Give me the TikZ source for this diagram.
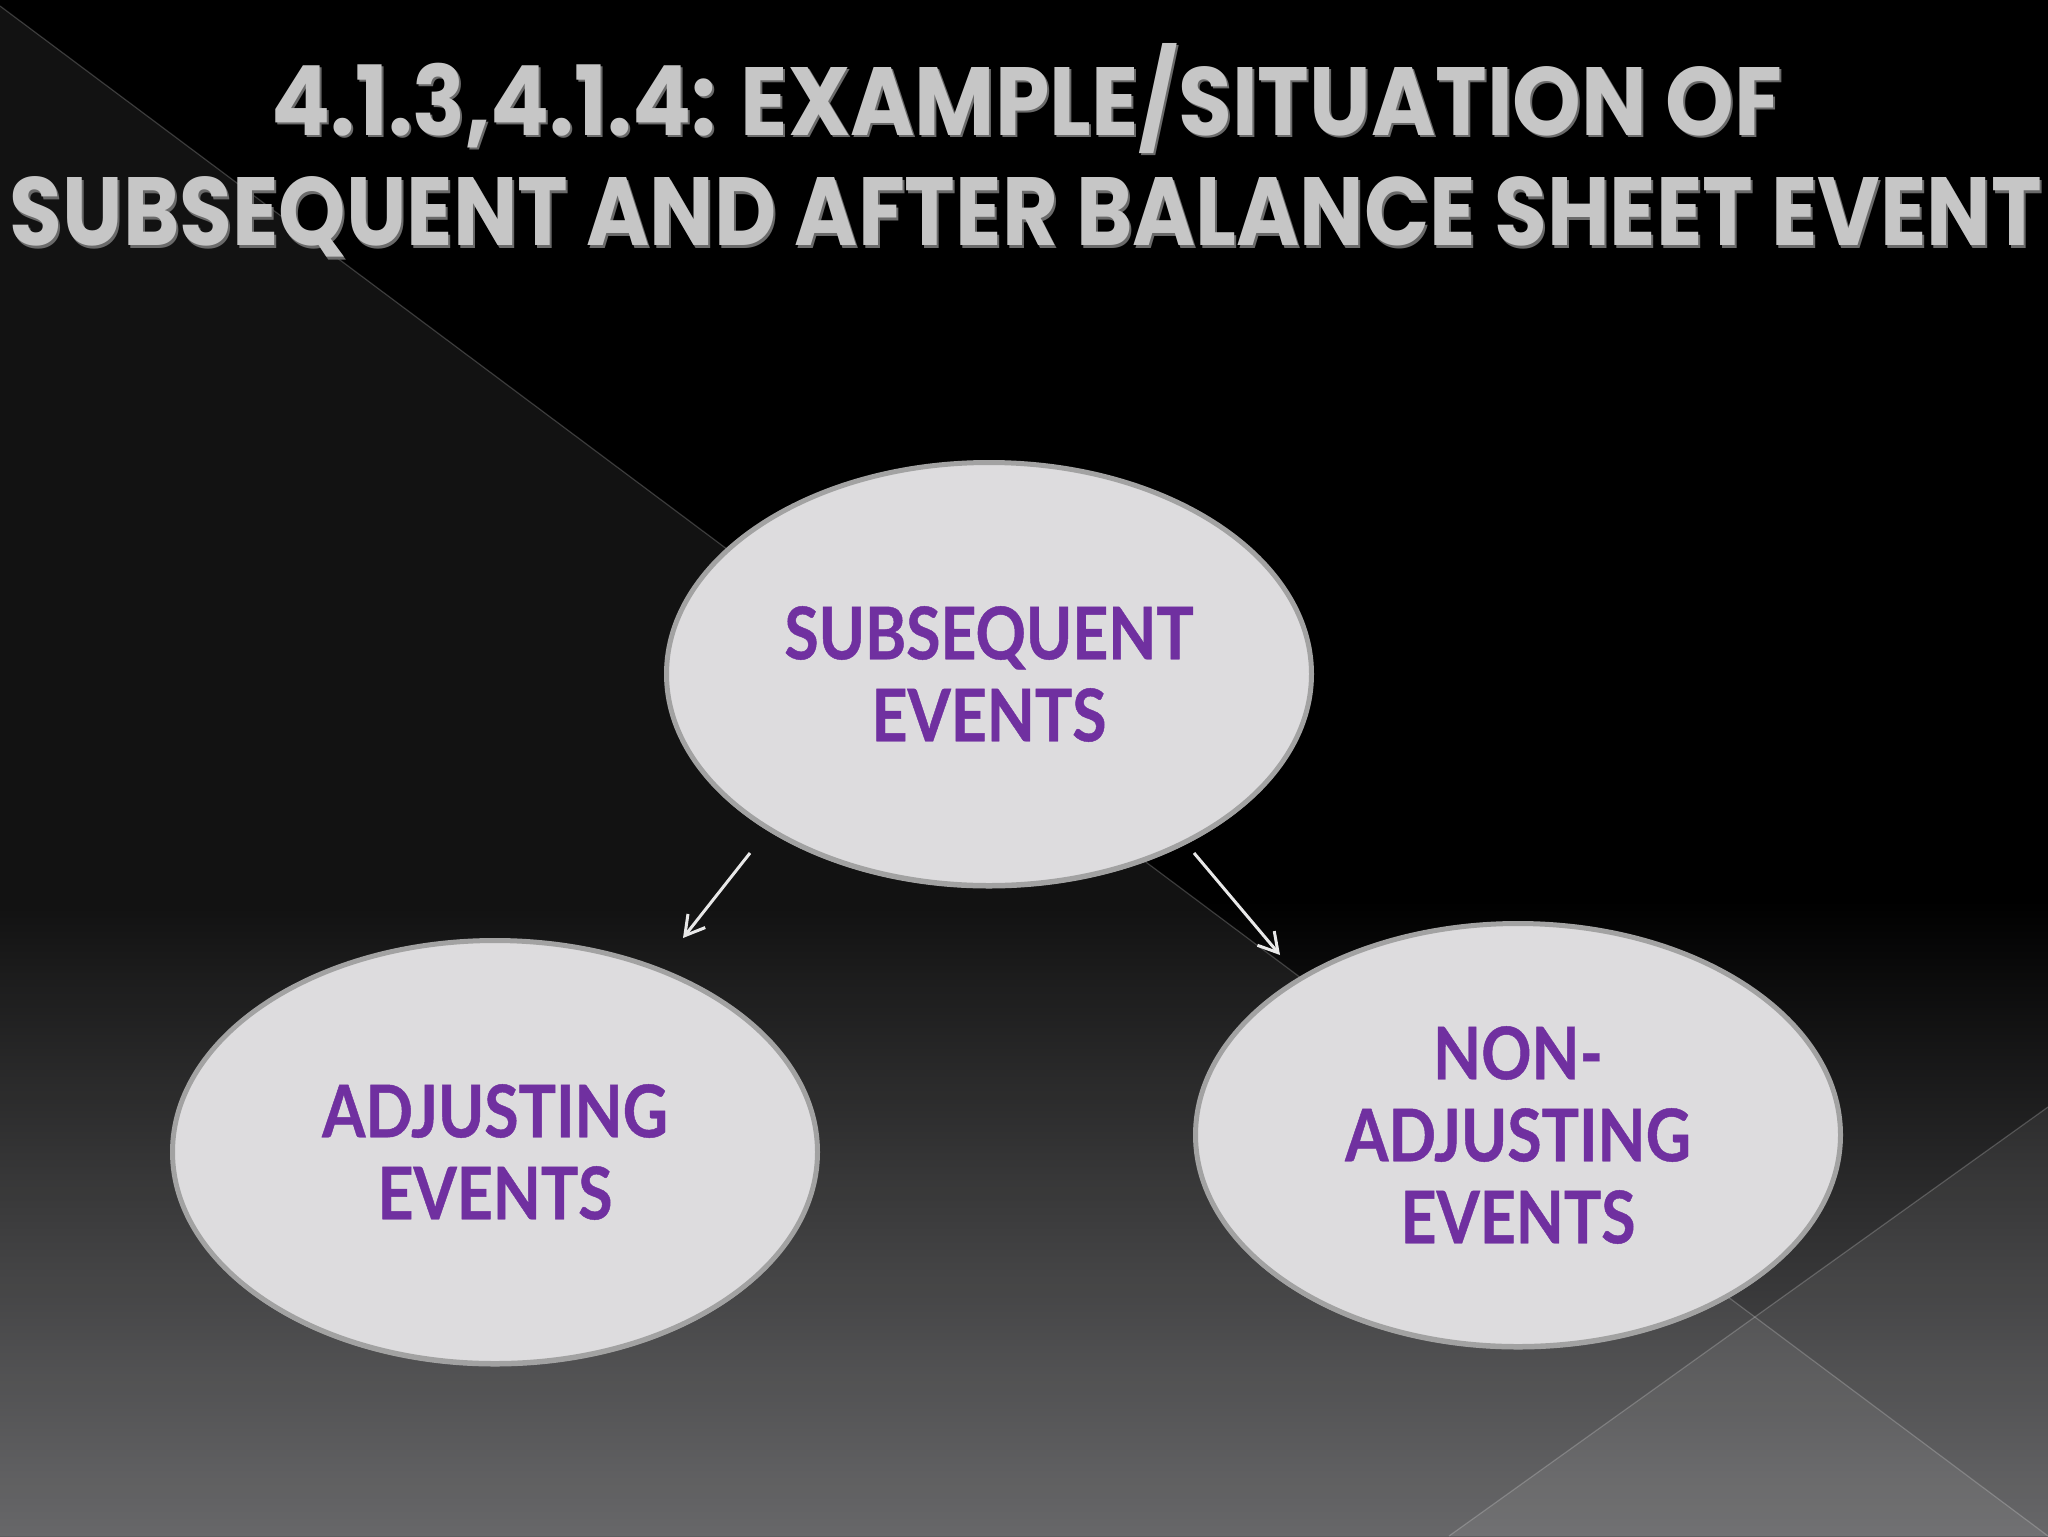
\documentclass[tikz,border=0pt]{standalone}
\usepackage{fontspec}
\usepackage{graphicx}
\usetikzlibrary{shapes.geometric, arrows.meta, shadows}
\newfontfamily\titlefont{Poppins}
\newfontfamily\lblfont{Lato}[FakeStretch=0.86, FakeBold=0.6]
\definecolor{purp}{HTML}{7030A0}
\definecolor{ellfill}{HTML}{DDDCDE}
\definecolor{ellline}{HTML}{A2A2A2}
\definecolor{bgbot}{HTML}{5C5C5E}
\definecolor{silver}{HTML}{C6C6C6}
\definecolor{silverdk}{HTML}{6A6A6A}
\definecolor{arrcol}{HTML}{E8E8E8}
\tikzset{
  evt/.style={ellipse, draw=ellline, line width=2.5pt, fill=ellfill,
    minimum width=322.5pt, minimum height=211.5pt, inner sep=0pt,
    drop shadow={shadow xshift=0pt, shadow yshift=-1.5pt, fill=ellline, opacity=1},
    align=center, text=purp, font=\lblfont\bfseries\fontsize{36.3}{41}\selectfont},
  arr/.style={draw=arrcol, line width=1.5pt, -{Straight Barb[length=9.5pt, width=11pt]}},
  ttl/.style={anchor=base, inner sep=0pt, text=silver},
  ttlsh/.style={anchor=base, inner sep=0pt, text=silverdk},
  seam/.style={draw=white, draw opacity=0.2, line width=0.6pt}
}
\newcommand{\lineone}{\resizebox{755.5pt}{34pt}{\smash{\titlefont\bfseries 4.1.3,4.1.4: EXAMPLE/SITUATION OF}\vphantom{\titlefont\bfseries E}}}
\newcommand{\linetwo}{\resizebox{1016pt}{34pt}{\smash{\titlefont\bfseries SUBSEQUENT AND AFTER BALANCE SHEET EVENT}\vphantom{\titlefont\bfseries E}}}
\begin{document}
\begin{tikzpicture}[x=0.5pt, y=-0.5pt]
\useasboundingbox (0,0) rectangle (2048,1536);
% background
\fill[black] (0,0) rectangle (2048,1536);
\shade[top color=black, bottom color=bgbot] (0,900) rectangle (2048,1536);
\fill[white, opacity=0.07] (0,6) -- (2048,1536) -- (0,1536) -- cycle;
\fill[white, opacity=0.07] (1449,1536) -- (2048,1107) -- (2048,1536) -- cycle;
\draw[seam] (0,6) -- (2048,1536);
\draw[seam] (1449,1536) -- (2048,1107);
% title
\node[ttlsh] (t1s) at (1029,138) {\lineone};
\node[ttlsh] (t2s) at (1028,248) {\linetwo};
\node[ttl] (t1) at (1027,135) {\lineone};
\node[ttl] (t2) at (1026,245) {\linetwo};
% ellipses
\node[evt] (sub) at (989,674) {SUBSEQUENT\\EVENTS};
\node[evt] (adj) at (495,1152) {ADJUSTING\\EVENTS};
\node[evt] (non) at (1518,1135) {NON-\\ADJUSTING\\EVENTS};
% arrows
\coordinate (a1s) at (750,853);
\coordinate (a1e) at (683,938);
\coordinate (a2s) at (1194,853);
\coordinate (a2e) at (1280,955);
\draw[arr] (a1s) -- (a1e);
\draw[arr] (a2s) -- (a2e);
\end{tikzpicture}
\end{document}
